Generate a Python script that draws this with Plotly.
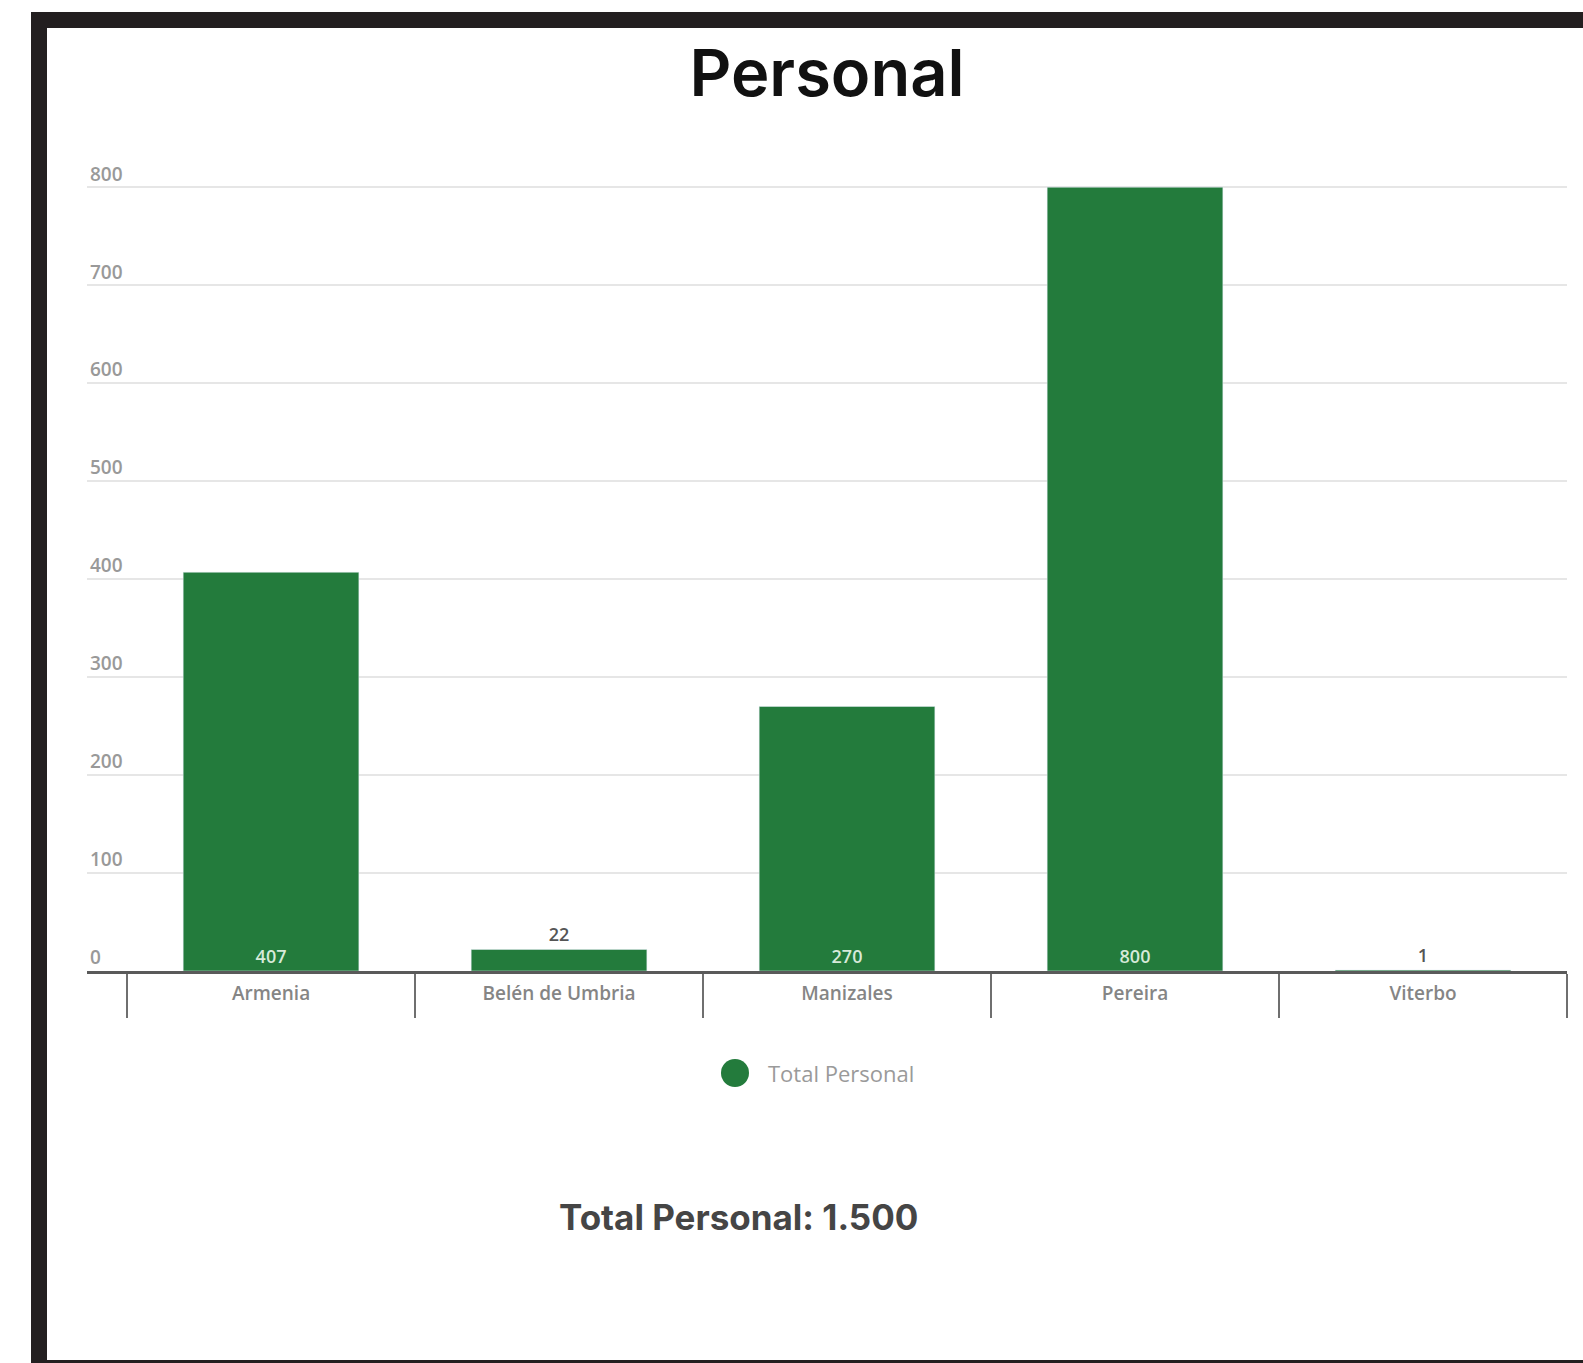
import plotly.graph_objects as go

categories = ["Armenia", "Belén de Umbria", "Manizales", "Pereira", "Viterbo"]
values = [407, 22, 270, 800, 1]
y_ticks = [0, 100, 200, 300, 400, 500, 600, 700, 800]
series_name = "Total Personal"
title_text = "Personal"

W, H = 1583, 1363
L, R = 87, 1567          # plot area, px
T, B = 148, 971

def px_x(p):
    return (p - L) / (R - L)

def px_y(p):
    return (B - p) / (B - T)

GREEN = "#237B3C"
total = sum(values)
total_str = f"{total:,}".replace(",", ".")

text_pos = ["inside" if v > 100 else "outside" for v in values]
text_col = ["#d6ead9" if v > 100 else "#555555" for v in values]

fig = go.Figure()
fig.add_trace(go.Bar(
    x=categories, y=values, marker_color=GREEN, width=0.61, name=series_name,
    text=[str(v) for v in values], textposition=text_pos,
    insidetextanchor="start",
    textfont=dict(family="Open Sans", size=18, color=text_col, weight=600),
    cliponaxis=False, showlegend=False, hoverinfo="x+y",
))

shapes = []
frame = "#231f20"
# screenshot frame
shapes.append(dict(type="rect", xref="paper", yref="paper",
                   x0=px_x(31), x1=px_x(1583), y0=px_y(12), y1=px_y(28),
                   fillcolor=frame, line_width=0, layer="above"))
shapes.append(dict(type="rect", xref="paper", yref="paper",
                   x0=px_x(31), x1=px_x(47), y0=px_y(12), y1=px_y(1363),
                   fillcolor=frame, line_width=0, layer="above"))
shapes.append(dict(type="rect", xref="paper", yref="paper",
                   x0=px_x(31), x1=px_x(1583), y0=px_y(1360), y1=px_y(1364),
                   fillcolor=frame, line_width=0, layer="above"))
# legend marker (circle)
shapes.append(dict(type="circle", xref="paper", yref="paper",
                   x0=px_x(721), x1=px_x(749), y0=px_y(1059), y1=px_y(1087),
                   fillcolor=GREEN, line_width=0))

fig.update_layout(
    width=W, height=H,
    margin=dict(l=L, r=W - R, t=T, b=H - B, autoexpand=False),
    paper_bgcolor="white", plot_bgcolor="white",
    showlegend=False,
    title=dict(text=title_text, x=0.5, xref="paper", xanchor="center",
               y=1 - 73 / H, yref="container", yanchor="middle",
               font=dict(family="Inter", size=65, color="#111111", weight=600)),
    xaxis=dict(type="category", range=[-0.639, 4.5], tickson="boundaries",
               ticks="outside", ticklen=44, tickwidth=2, tickcolor="#6f6f6f",
               showline=True, linecolor="#5a5a5a", linewidth=3,
               showgrid=False, ticklabelstandoff=3,
               tickfont=dict(family="Open Sans", size=19, color="#858585", weight=600)),
    yaxis=dict(range=[0, 840], tickvals=y_ticks, ticktext=[str(v) for v in y_ticks],
               ticklabelposition="inside top", showgrid=True,
               gridcolor="#e6e6e6", gridwidth=2, zeroline=False, showline=False,
               tickfont=dict(family="Open Sans", size=19, color="#999999", weight=600)),
    shapes=shapes,
    annotations=[
        dict(text=series_name, xref="paper", yref="paper",
             x=px_x(766), y=px_y(1073), xanchor="left", yanchor="middle",
             showarrow=False,
             font=dict(family="Open Sans", size=22, color="#9a9a9a")),
        dict(text=f"<b>{series_name}: {total_str}</b>", xref="paper", yref="paper",
             x=px_x(738), y=px_y(1217), xanchor="center", yanchor="middle",
             showarrow=False,
             font=dict(family="Inter", size=35, color="#454545")),
    ],
)

fig.write_html("out.html")
